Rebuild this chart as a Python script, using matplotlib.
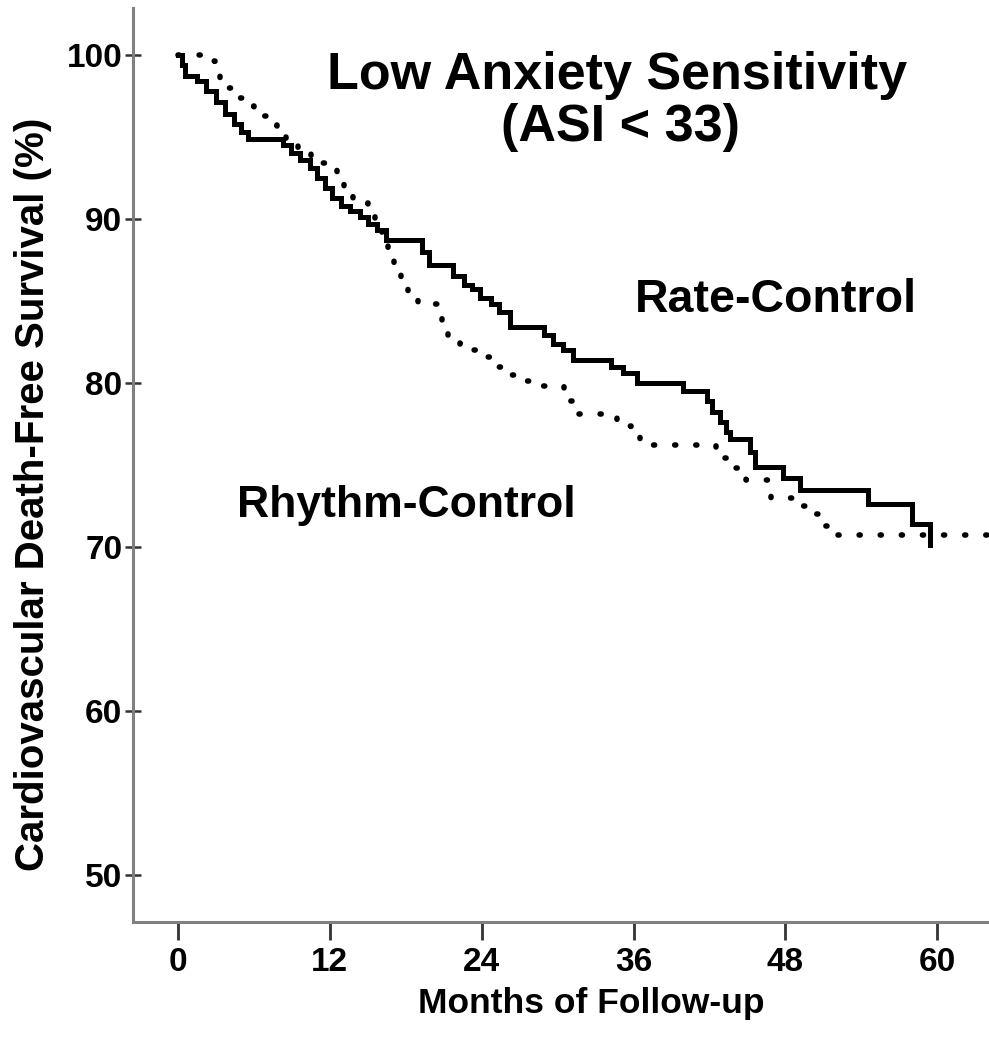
import matplotlib
matplotlib.use("Agg")
import matplotlib.pyplot as plt

# Kaplan-Meier steps (months, % surviving)
rate_t = [0, 0.3, 0.55, 1.5, 2.2, 3.0, 3.7, 4.4, 5.0, 5.5, 8.3, 8.9, 9.6, 10.4, 11.0,
          11.6, 12.2, 12.9, 13.6, 14.4, 15.0, 15.7, 16.4, 19.3, 19.8, 21.7, 22.6,
          23.2, 23.9, 24.7, 25.4, 26.2, 28.9, 29.6, 30.4, 31.2, 34.2, 35.2, 36.3,
          39.9, 41.8, 42.2, 42.8, 43.3, 43.6, 45.2, 45.6, 47.8, 49.2, 54.5, 58.0, 59.4]
rate_s = [100, 99.4, 98.7, 98.4, 97.8, 97.1, 96.4, 95.8, 95.3, 94.9, 94.5, 94.0, 93.6,
          93.1, 92.5, 91.9, 91.3, 90.8, 90.5, 90.1, 89.7, 89.3, 88.7, 88.0, 87.2, 86.5,
          86.0, 85.7, 85.2, 84.8, 84.3, 83.4, 82.9, 82.4, 82.0, 81.4, 81.0, 80.6, 80.0,
          79.5, 78.9, 78.2, 77.6, 77.0, 76.6, 75.8, 74.9, 74.2, 73.5, 72.6, 71.4, 70.1]

rhythm_t = [0, 2.2, 2.9, 3.3, 3.8, 4.4, 5.2, 6.0, 7.0, 7.8, 8.5, 9.5, 10.5, 11.3, 12.3,
            12.6, 13.1, 13.8, 14.4, 15.0, 15.6, 16.1, 16.6, 17.1, 17.6, 18.2, 19.0,
            20.6, 20.9, 21.3, 22.3, 23.4, 24.3, 25.2, 26.0, 27.0, 28.6, 30.5, 31.0,
            31.4, 34.7, 35.8, 36.5, 42.5, 43.2, 44.1, 44.9, 46.9, 49.2, 50.2, 51.0,
            51.8, 65.0]
rhythm_s = [100, 99.6, 99.0, 98.6, 98.0, 97.4, 96.9, 96.3, 95.7, 95.2, 94.6, 94.2, 93.8,
            93.4, 93.0, 92.3, 91.8, 91.3, 91.0, 90.3, 89.5, 88.7, 87.9, 87.0, 86.3, 85.5,
            84.8, 84.2, 83.7, 82.8, 82.4, 82.0, 81.6, 81.0, 80.5, 80.1, 79.8, 79.4, 78.9,
            78.1, 77.4, 76.9, 76.2, 75.9, 75.4, 74.8, 74.1, 73.0, 72.5, 72.0, 71.3, 70.7,
            70.7]

x_ticks = [0, 12, 24, 36, 48, 60]
y_ticks = [50, 60, 70, 80, 90, 100]

plt.rcParams['font.family'] = ['Liberation Sans', 'DejaVu Sans']
plt.rcParams['font.weight'] = 'bold'

fig = plt.figure(figsize=(9.89, 10.46), dpi=100)
ax = fig.add_axes([0.1345, 0.1185, 0.8655, 0.874])

ax.step(rate_t, rate_s, where='post', color='black', lw=3.6, solid_joinstyle='miter')
ax.step(rhythm_t, rhythm_s, where='post', color='black', lw=4.0,
        linestyle=(0, (0.2, 3.6)), dash_capstyle='round')

ax.set_xlim(-3.56, 64.1)
ax.set_ylim(47.13, 102.87)
ax.set_xticks(x_ticks)
ax.set_yticks(y_ticks)

for s in ['top', 'right']:
    ax.spines[s].set_visible(False)
for s in ['left', 'bottom']:
    ax.spines[s].set_color('#808080')
    ax.spines[s].set_linewidth(2.2)

ax.tick_params(axis='x', direction='out', length=13, width=2, color='#333333',
               labelsize=24, pad=5)
ax.tick_params(axis='y', direction='inout', length=11.5, width=1.8, color='#333333',
               labelsize=24, pad=2)

ax.set_xlabel("Months of Follow-up", fontsize=25.5, fontweight='bold')
ax.xaxis.set_label_coords(0.535, -0.0886)
ax.xaxis.label.set_va('center')
ax.set_ylabel("Cardiovascular Death-Free Survival (%)", fontsize=29,
              fontweight='bold')
ax.yaxis.set_label_coords(-0.117, 0.468)
ax.yaxis.label.set_va('center')

fig.text(0.624, 0.928, "Low Anxiety Sensitivity", fontsize=37.5, fontweight='bold',
         ha='center', va='center')
fig.text(0.627, 0.878, "(ASI < 33)", fontsize=37.5, fontweight='bold',
         ha='center', va='center')
fig.text(0.784, 0.713, "Rate-Control", fontsize=33.5, fontweight='bold',
         ha='center', va='center')
fig.text(0.4105, 0.517, "Rhythm-Control", fontsize=32, fontweight='bold',
         ha='center', va='center')

fig.savefig("out.png", dpi=100)
